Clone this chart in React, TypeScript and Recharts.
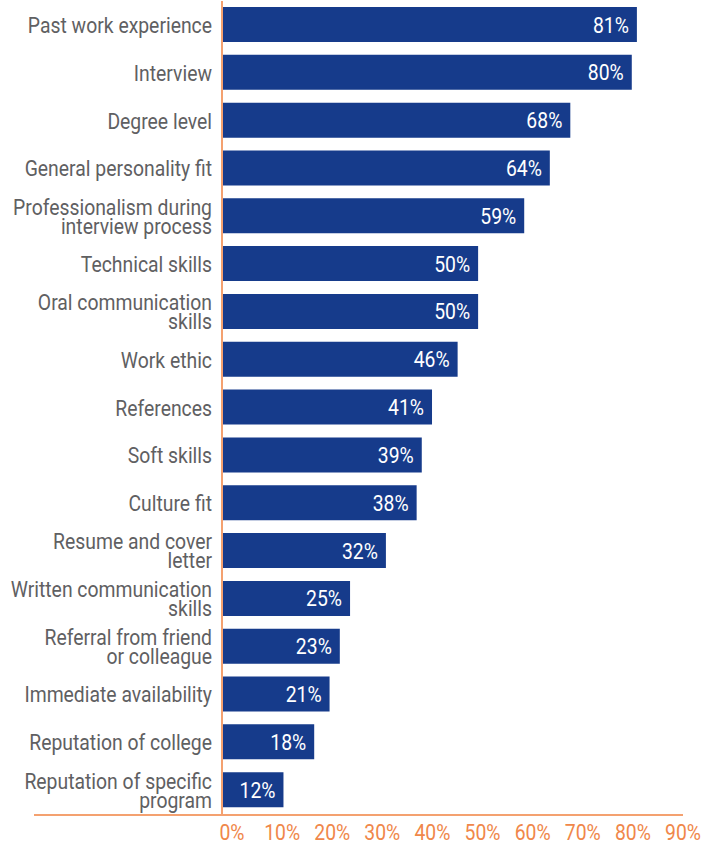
import { BarChart, Bar, XAxis, YAxis, LabelList } from 'recharts';

const categories = [
  'Past work experience',
  'Interview',
  'Degree level',
  'General personality fit',
  'Professionalism during\ninterview process',
  'Technical skills',
  'Oral communication\nskills',
  'Work ethic',
  'References',
  'Soft skills',
  'Culture fit',
  'Resume and cover\nletter',
  'Written communication\nskills',
  'Referral from friend\nor colleague',
  'Immediate availability',
  'Reputation of college',
  'Reputation of specific\nprogram',
];

const shares = [81, 80, 68, 64, 59, 50, 50, 46, 41, 39, 38, 32, 25, 23, 21, 18, 12];

const xTicks = [0, 10, 20, 30, 40, 50, 60, 70, 80, 90];

const data = categories.map((name, i) => ({ name, value: shares[i] }));

// no condensed face is installed, so Roboto gets squeezed horizontally
const FONT = 'Roboto, sans-serif';
const SQUEEZE = 0.88;
const BAR = '#163b8b';
const AXIS = '#f4a170';
const ORANGE = '#f0874a';
const GREY = '#5f6062';

const NarrowText = ({ x, y, anchor, fill, lines, lineH = 19 }: any) => (
  <text
    transform={`translate(${x},${y}) scale(${SQUEEZE},1)`}
    x={0}
    y={0}
    textAnchor={anchor}
    fill={fill}
    fontFamily={FONT}
    fontSize={22}
  >
    {lines.map((l: string, i: number) => (
      <tspan key={i} x={0} y={i * lineH}>
        {l}
      </tspan>
    ))}
  </text>
);

const CategoryTick = (props: any) => {
  const { x, y, payload } = props;
  const lines = String(payload.value).split('\n');
  const first = y + 8 - ((lines.length - 1) * 19) / 2;
  return <NarrowText x={x - 2} y={first} anchor="end" fill={GREY} lines={lines} />;
};

const PercentTick = (props: any) => {
  const { x, y, payload } = props;
  // labels sit slightly right of their ticks, more so at the low end
  const shift = 10 * (1 - payload.value / 90);
  return (
    <NarrowText x={x + shift} y={y + 18} anchor="middle" fill={ORANGE} lines={[`${payload.value}%`]} />
  );
};

const ValueLabel = (props: any) => {
  const { x, y, width, height, value } = props;
  return (
    <NarrowText
      x={x + width - 8}
      y={y + height / 2 + 8}
      anchor="end"
      fill="#ffffff"
      lines={[`${value}%`]}
    />
  );
};

export default function App() {
  return (
    <div style={{ position: 'absolute', left: 0, top: 0, width: 715, height: 842, background: '#fff' }}>
      <BarChart
        width={715}
        height={842}
        data={data}
        layout="vertical"
        margin={{ top: 1, right: 32, left: 0, bottom: 0 }}
        barSize={35}
      >
        <XAxis
          type="number"
          domain={[0, 90]}
          ticks={xTicks}
          axisLine={false}
          tickLine={false}
          height={28}
          tick={<PercentTick />}
          interval={0}
        />
        <YAxis
          type="category"
          dataKey="name"
          width={222}
          axisLine={{ stroke: AXIS, strokeWidth: 2 }}
          tickLine={false}
          tick={<CategoryTick />}
          interval={0}
        />
        <Bar dataKey="value" fill={BAR} isAnimationActive={false}>
          <LabelList dataKey="value" content={<ValueLabel />} />
        </Bar>
      </BarChart>
      {/* baseline rule running under the labels */}
      <div
        style={{
          position: 'absolute',
          left: 34,
          top: 813.5,
          width: 649,
          height: 2,
          background: AXIS,
        }}
      />
    </div>
  );
}
